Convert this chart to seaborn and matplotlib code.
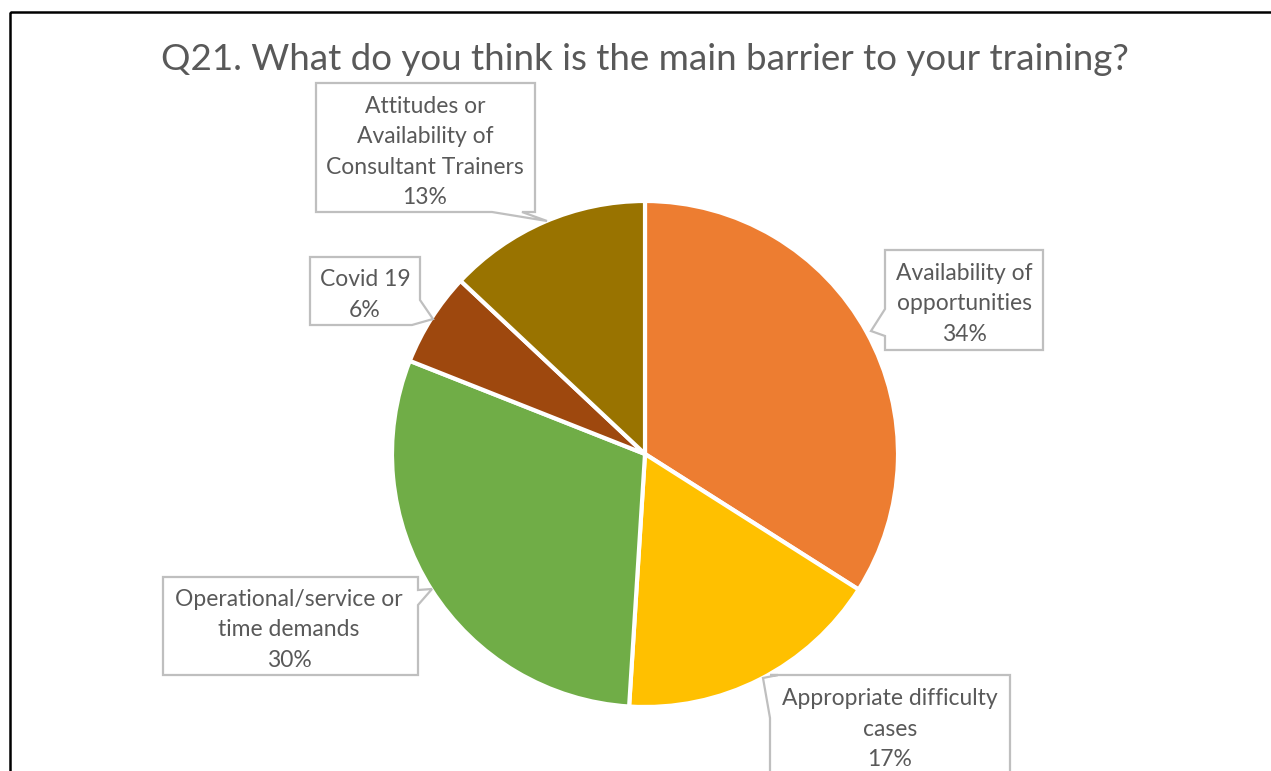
import matplotlib
matplotlib.use("Agg")
import matplotlib.pyplot as plt
from matplotlib.patches import Polygon, Rectangle
import seaborn as sns

# ---- data ----
title = "Q21. What do you think is the main barrier to your training?"
categories = ["Availability of\nopportunities",
              "Appropriate difficulty\ncases",
              "Operational/service or\ntime demands",
              "Covid 19",
              "Attitudes or\nAvailability of\nConsultant Trainers"]
values = [34, 17, 30, 6, 13]
colors = ["#ED7D31", "#FFC000", "#70AD47", "#9E480E", "#997300"]

# ---- layout (pixel coords, y down) ----
W, H = 1271, 771
center = (645, 454)
radius = 253
# callout polygons and text centres
callouts = [
    dict(poly=[(885, 250), (1043, 250), (1043, 350), (885, 350), (885, 336), (871, 331), (885, 309)],
         text=(964, 304)),
    dict(poly=[(770, 675), (1010, 675), (1010, 800), (770, 800), (770, 718), (763, 678), (778, 675)],
         text=(890, 729)),
    dict(poly=[(163, 577), (418, 577), (418, 590), (432, 589), (418, 605), (418, 675), (163, 675)],
         text=(289, 630)),
    dict(poly=[(310, 257), (420, 257), (420, 300), (433, 319), (412, 325), (310, 325)],
         text=(365, 295)),
    dict(poly=[(316, 83), (535, 83), (535, 212), (522, 212), (547, 221), (492, 212), (316, 212)],
         text=(425, 152)),
]
line_pitch = 30.5

sns.set_theme(style="white")
plt.rcParams["font.family"] = ["Lato", "DejaVu Sans"]

fig = plt.figure(figsize=(W / 100, H / 100), dpi=100)
ax = fig.add_axes([0, 0, 1, 1])

wedges, _ = ax.pie(values, colors=colors, center=center, radius=radius,
                   startangle=-90, counterclock=True,
                   wedgeprops=dict(edgecolor="white", linewidth=3))
ax.set_xlim(0, W)
ax.set_ylim(H, 0)
ax.set_aspect("auto")
ax.axis("off")

# outer frame
ax.add_patch(Rectangle((10, 12), W + 50, H + 50, fill=False, edgecolor="black",
                       linewidth=1.8, zorder=0))

ax.text(center[0], 60, title, ha="center", va="center", fontsize=26.5, color="#595959")

grey = "#595959"
for cat, val, co in zip(categories, values, callouts):
    ax.add_patch(Polygon(co["poly"], closed=True, facecolor="white",
                         edgecolor="#BFBFBF", linewidth=1.6, zorder=3))
    lines = cat.split("\n") + [f"{val}%"]
    n = len(lines)
    cx, cy = co["text"]
    for i, ln in enumerate(lines):
        y = cy + (i - (n - 1) / 2) * line_pitch
        ax.text(cx, y, ln, ha="center", va="center", fontsize=16.5, color=grey, zorder=4)

fig.savefig("out.png", dpi=100)
